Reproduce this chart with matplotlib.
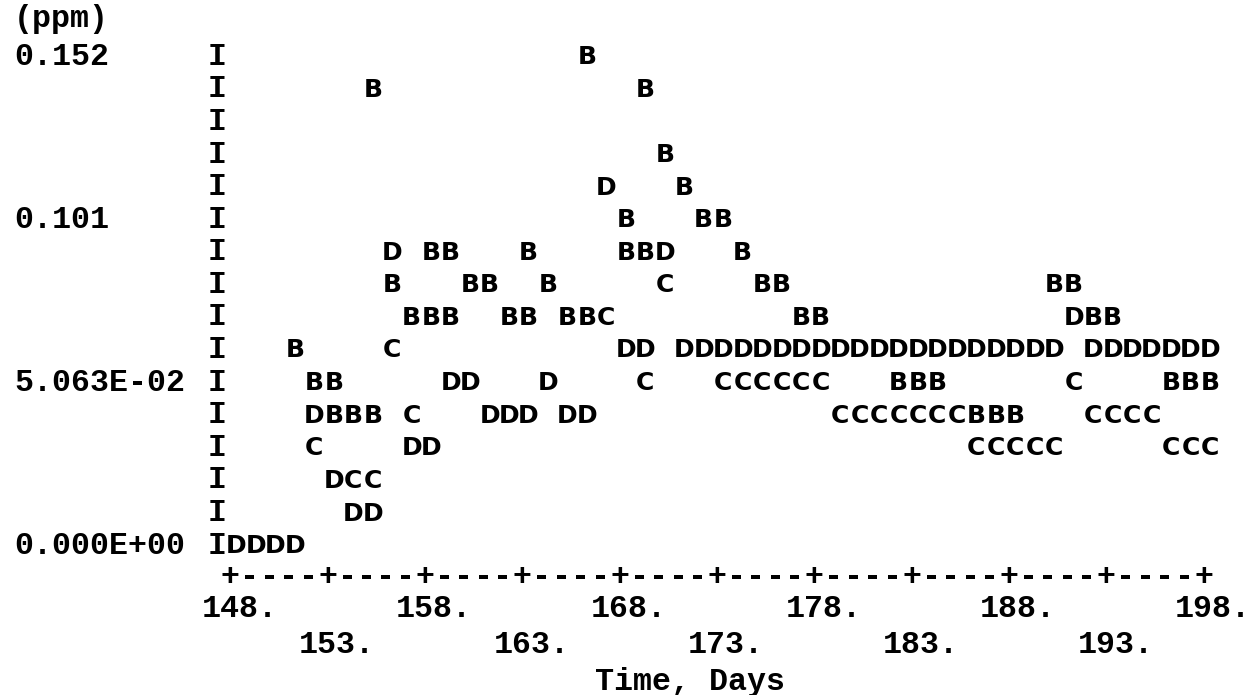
import matplotlib
matplotlib.use("Agg")
import matplotlib.pyplot as plt

# ------------------------------------------------------------------
# Data (day, concentration in ppm)
# ------------------------------------------------------------------
B_days = [151, 152, 153, 153, 154, 155, 155, 156, 157, 158, 158, 159, 159,
          160, 161, 162, 163, 163, 164, 165, 166, 166, 168, 168, 169, 169,
          170, 171, 172, 173, 174, 175, 176, 177, 178, 182, 183, 184, 186,
          187, 188, 190, 191, 192, 193, 196, 197, 198]
B_ppm = [0.0608, 0.0506, 0.0506, 0.0405, 0.0405, 0.0405, 0.1418, 0.0810,
         0.0709, 0.0709, 0.0911, 0.0709, 0.0911, 0.0810, 0.0810, 0.0709,
         0.0709, 0.0911, 0.0810, 0.0709, 0.0709, 0.1519, 0.0911, 0.1013,
         0.0911, 0.1418, 0.1215, 0.1114, 0.1013, 0.1013, 0.0911, 0.0810,
         0.0810, 0.0709, 0.0709, 0.0506, 0.0506, 0.0506, 0.0405, 0.0405,
         0.0405, 0.0810, 0.0810, 0.0709, 0.0709, 0.0506, 0.0506, 0.0506]

C_days = [152, 154, 155, 156, 157, 167, 169, 170,
          173, 174, 175, 176, 177, 178,
          179, 180, 181, 182, 183, 184, 185,
          186, 187, 188, 189, 190, 191,
          192, 193, 194, 195, 196, 197, 198]
C_ppm = [0.0304, 0.0203, 0.0203, 0.0608, 0.0405, 0.0709, 0.0506, 0.0810,
         0.0506, 0.0506, 0.0506, 0.0506, 0.0506, 0.0506,
         0.0405, 0.0405, 0.0405, 0.0405, 0.0405, 0.0405, 0.0405,
         0.0304, 0.0304, 0.0304, 0.0304, 0.0304, 0.0506,
         0.0405, 0.0405, 0.0405, 0.0405, 0.0304, 0.0304, 0.0304]

D_days = [148, 149, 150, 151, 152, 153, 154, 155, 156, 157, 158, 159, 160,
          161, 162, 163, 164, 165, 166, 167, 168, 169, 170,
          171, 172, 173, 174, 175, 176, 177, 178, 179, 180,
          181, 182, 183, 184, 185, 186, 187, 188, 189, 190,
          191, 192, 193, 194, 195, 196, 197, 198]
D_ppm = [0.0, 0.0, 0.0, 0.0, 0.0405, 0.0203, 0.0101, 0.0101, 0.0911, 0.0304,
         0.0304, 0.0506, 0.0506, 0.0405, 0.0405, 0.0405, 0.0506, 0.0405,
         0.0405, 0.1114, 0.0608, 0.0608, 0.0911,
         0.0608, 0.0608, 0.0608, 0.0608, 0.0608, 0.0608, 0.0608, 0.0608,
         0.0608, 0.0608, 0.0608, 0.0608, 0.0608, 0.0608, 0.0608, 0.0608,
         0.0608, 0.0608, 0.0608, 0.0608,
         0.0709, 0.0608, 0.0608, 0.0608, 0.0608, 0.0608, 0.0608, 0.0608]

series = [("B", B_days, B_ppm), ("C", C_days, C_ppm), ("D", D_days, D_ppm)]

# printer rows of the vertical axis (ppm)
row_ppm = [0.0, 0.0101, 0.0203, 0.0304, 0.0405, 0.0506, 0.0608, 0.0709,
           0.0810, 0.0911, 0.1013, 0.1114, 0.1215, 0.1316, 0.1418, 0.1519]
ytick_ppm = [0.1519, 0.1013, 0.0506, 0.0]
ytick_labels = ["0.152", "0.101", "5.063E-02", "0.000E+00"]

xtick_days = [148, 153, 158, 163, 168, 173, 178, 183, 188, 193, 198]
xtick_labels = ["148.", "153.", "158.", "163.", "168.", "173.",
                "178.", "183.", "188.", "193.", "198."]
axis_day = 147
first_day, last_day = 148, 198

# ------------------------------------------------------------------
W, H = 1258, 695
fig = plt.figure(figsize=(W / 100, H / 100), dpi=100)
ax = fig.add_axes([0, 0, 1, 1])
ax.set_xlim(135.8546, 200.467)
ax.set_ylim(-0.046905, 0.16898)
ax.axis("off")

LAB_FONT = dict(family="Liberation Mono", size=22.8, weight="bold", color="black")
LET_FONT = dict(family="DejaVu Sans", size=18.0, weight="bold", color="black")
lab_off = -7.0   # points: puts glyph centre on the anchor
let_off = -6.6

def put(txt, xy, coords, font, off, ha="center"):
    ax.annotate(txt, xy, xycoords=coords, xytext=(0, off),
                textcoords="offset points", ha=ha, va="baseline", **font)

# vertical axis made of 'I'
for v in row_ppm:
    put("I", (axis_day, v), "data", LAB_FONT, lab_off)

# data letters
for letter, days, vals in series:
    for d, v in zip(days, vals):
        put(letter, (d, v), "data", LET_FONT, let_off)

# y labels
for v, lab in zip(ytick_ppm, ytick_labels):
    put(lab, (14 / W, v), ("axes fraction", "data"), LAB_FONT, lab_off, ha="left")
put("(ppm)", (14 / W, 1 - 17 / H), "axes fraction", LAB_FONT, lab_off, ha="left")

# horizontal axis line "+----+----..."
for d in range(first_day, last_day + 1):
    ch = "+" if d in xtick_days else "-"
    put(ch, (d - 0.32, 1 - 575 / H), ("data", "axes fraction"), LAB_FONT, lab_off)

# x tick labels on two staggered lines
for i, (d, lab) in enumerate(zip(xtick_days, xtick_labels)):
    yy = 1 - (607 if i % 2 == 0 else 643) / H
    put(lab, (d + 0.15, yy), ("data", "axes fraction"), LAB_FONT, lab_off)

put("Time, Days", (690 / W, 1 - 680 / H), "axes fraction", LAB_FONT, lab_off)

fig.savefig("out.png", dpi=100, facecolor="white")
